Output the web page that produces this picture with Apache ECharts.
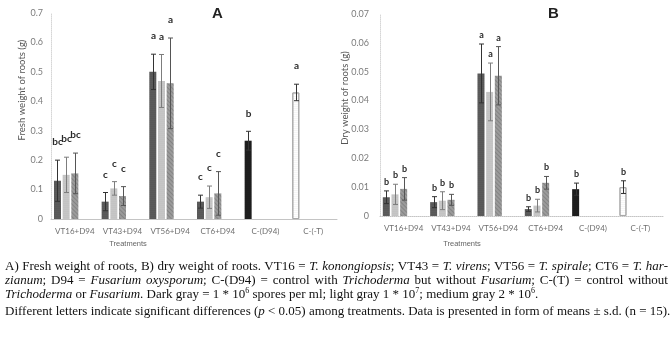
<!DOCTYPE html>
<html>
<head>
<meta charset="utf-8">
<script src="https://cdn.jsdelivr.net/npm/echarts@6/dist/echarts.min.js"></script>
<style>
  body { margin: 0; background: #fff; }
  #wrap { position: relative; width: 672px; height: 339px; overflow: hidden; }
  #chart { position: absolute; left: 0; top: 0; width: 672px; height: 339px; }
  #caption { position: absolute; left: 5px; top: 259px; width: 663px;
    font-family: "Liberation Serif", "Times New Roman", serif; font-size: 13px;
    line-height: 14px; color: #111; }
  #caption .j { text-align: justify; text-align-last: justify; white-space: nowrap; }
  #caption .l { text-align: left; white-space: nowrap; }
  #caption .p { margin-top: 3px; }
  #caption sup { font-size: 8px; line-height: 0; vertical-align: 5px; }
</style>
</head>
<body>
<div id="wrap">
  <div id="chart"></div>
  <div id="caption">
    <div class="j">A) Fresh weight of roots, B) dry weight of roots. VT16 = <i>T. konongiopsis</i>; VT43 = <i>T. virens</i>; VT56 = <i>T. spirale</i>; CT6 = <i>T. har-</i></div>
    <div class="j"><i>zianum</i>; D94 = <i>Fusarium oxysporum</i>; C-(D94) = control with <i>Trichoderma</i> but without <i>Fusarium</i>; C-(T) = control without</div>
    <div class="l"><i>Trichoderma</i> or <i>Fusarium</i>. Dark gray = 1 * 10<sup>6</sup> spores per ml; light gray 1 * 10<sup>7</sup>; medium gray 2 * 10<sup>6</sup>.</div>
    <div class="j p">Different letters indicate significant differences (<i>p</i> &lt; 0.05) among treatments. Data is presented in form of means ± s.d. (n = 15).</div>
  </div>
</div>
<script>
const categories = ["VT16+D94", "VT43+D94", "VT56+D94", "CT6+D94", "C-(D94)", "C-(-T)"];

// A: fresh weight (g); index 4 = black control, index 5 = white control
const freshDark = [0.13, 0.059, 0.50, 0.059, 0.266, 0.43];
const freshDarkErr = [0.07, 0.031, 0.06, 0.022, 0.032, 0.028];
const freshLight = [0.15, 0.104, 0.469, 0.074, "-", "-"];
const freshLightErr = [0.06, 0.023, 0.09, 0.038, 0, 0];
const freshMed = [0.155, 0.078, 0.461, 0.087, "-", "-"];
const freshMedErr = [0.069, 0.032, 0.154, 0.074, 0, 0];
const freshLettersDark = ["bc", "c", "a", "c", "b", "a"];
const freshLettersLight = ["bc", "c", "a", "c", "", ""];
const freshLettersMed = ["bc", "c", "a", "c", "", ""];

// B: dry weight (g)
const dryDark = [0.0065, 0.0048, 0.0494, 0.0024, 0.0093, 0.0100];
const dryDarkErr = [0.0022, 0.0019, 0.0102, 0.0008, 0.0021, 0.0022];
const dryLight = [0.0075, 0.0053, 0.043, 0.0036, "-", "-"];
const dryLightErr = [0.0035, 0.0031, 0.010, 0.0022, 0, 0];
const dryMed = [0.0094, 0.0056, 0.0486, 0.0115, "-", "-"];
const dryMedErr = [0.0039, 0.0019, 0.0101, 0.0022, 0, 0];
const dryLettersDark = ["b", "b", "a", "b", "b", "b"];
const dryLettersLight = ["b", "b", "a", "b", "", ""];
const dryLettersMed = ["b", "b", "a", "b", "", ""];

const freshTicks = [0, 0.1, 0.2, 0.3, 0.4, 0.5, 0.6, 0.7];
const dryTicks = [0, 0.01, 0.02, 0.03, 0.04, 0.05, 0.06, 0.07];

const DARK = "#5b5b5b";
const LIGHT = "#c3c3c3";
const MED = "#9b9b9b";
const BAR_W = 7;
const BAR_GAP = 0.24;
const PITCH = BAR_W * (1 + BAR_GAP);
const labelFont = "Lato, 'Open Sans', sans-serif";

const chart = echarts.init(document.getElementById("chart"));

function darkData(vals) {
  return vals.map((v, i) => {
    if (i === 4) return { value: v, itemStyle: { color: "#1e1e1e" } };
    if (i === 5) return { value: v, itemStyle: { color: "#ffffff", borderColor: "#a8a8a8", borderWidth: 1 } };
    return v;
  });
}

function barSeries(gridIdx, data, color, decal) {
  return {
    type: "bar",
    xAxisIndex: gridIdx,
    yAxisIndex: gridIdx,
    barWidth: BAR_W,
    barGap: BAR_GAP * 100 + "%",
    itemStyle: { color: color, decal: decal },
    silent: true,
    data: data,
  };
}

function errorSeries(gridIdx, vals, errs, letters, slot, color, letterGap, letterSize) {
  const data = [];
  vals.forEach((v, i) => {
    if (v !== "-") data.push([i, v, errs[i]]);
  });
  return {
    type: "custom",
    xAxisIndex: gridIdx,
    yAxisIndex: gridIdx,
    silent: true,
    z: 5,
    data: data,
    renderItem: (params, api) => {
      const i = api.value(0);
      const v = api.value(1);
      const e = api.value(2);
      const hi = api.coord([i, v + e]);
      const lo = api.coord([i, v - e]);
      const x = Math.round(hi[0] + (slot - 2) * PITCH) + 0.5;
      const style = { stroke: color, lineWidth: 1 };
      return {
        type: "group",
        children: [
          { type: "line", shape: { x1: x, y1: hi[1], x2: x, y2: lo[1] }, style },
          { type: "line", shape: { x1: x - 2.5, y1: hi[1], x2: x + 2.5, y2: hi[1] }, style },
          { type: "line", shape: { x1: x - 2.5, y1: lo[1], x2: x + 2.5, y2: lo[1] }, style },
          {
            type: "text",
            x: x,
            y: hi[1] - letterGap,
            style: {
              text: letters[i],
              fill: "#2b2b2b",
              font: "bold " + letterSize + "px " + labelFont,
              align: "center",
              verticalAlign: "middle",
            },
          },
        ],
      };
    },
  };
}

function emptySeries(gridIdx) {
  return barSeries(gridIdx, categories.map(() => "-"), "#000");
}

const dotDecal = { symbol: "rect", symbolSize: 0.35, dashArrayX: [2, 0], dashArrayY: [1, 1], color: "rgba(0,0,0,0.18)", rotation: 0 };
const lightDecal = { symbol: "rect", symbolSize: 0.35, dashArrayX: [2, 0], dashArrayY: [1, 1], color: "rgba(255,255,255,0.35)" };
const hatchDecal = { symbol: "rect", symbolSize: 1, dashArrayX: [1, 0], dashArrayY: [1, 2], rotation: Math.PI / 4, color: "rgba(60,60,60,0.25)" };

function xAxis(gridIdx, dotted) {
  return {
    type: "category",
    gridIndex: gridIdx,
    data: categories,
    axisTick: { show: false },
    axisLine: { lineStyle: { color: "#c4c4c4", width: 1, type: dotted ? "dotted" : "solid" } },
    axisLabel: { color: "#6f6f6f", fontSize: 8, fontFamily: labelFont, margin: 8, interval: 0 },
  };
}

function yAxis(gridIdx, ticks, digits, margin) {
  return {
    type: "value",
    gridIndex: gridIdx,
    min: ticks[0],
    max: ticks[ticks.length - 1],
    interval: ticks[1] - ticks[0],
    splitLine: { show: false },
    axisTick: { show: false },
    axisLine: { show: true, lineStyle: { color: "#d6d6d6", type: "dotted" } },
    axisLabel: {
      color: "#7b7b7b",
      fontSize: 9,
      fontFamily: labelFont,
      margin: margin,
      formatter: (val) => (val === 0 ? "0" : val.toFixed(digits)),
    },
  };
}

const option = {
  animation: false,
  grid: [
    { left: 51, top: 13, width: 286, height: 206 },
    { left: 380, top: 14, width: 284, height: 202 },
  ],
  xAxis: [xAxis(0, false), xAxis(1, true)],
  yAxis: [yAxis(0, freshTicks, 1, 8), yAxis(1, dryTicks, 2, 11)],
  graphic: [
    { type: "text", left: 212, top: 6, style: { text: "A", font: "bold 15px 'Liberation Sans', Arial, sans-serif", fill: "#222" } },
    { type: "text", left: 548, top: 6, style: { text: "B", font: "bold 15px 'Liberation Sans', Arial, sans-serif", fill: "#222" } },
    { type: "text", x: 22, y: 90, rotation: Math.PI / 2, style: { text: "Fresh weight of roots (g)", font: "9.5px " + labelFont, fill: "#555", align: "center", verticalAlign: "middle" } },
    { type: "text", x: 345, y: 98, rotation: Math.PI / 2, style: { text: "Dry weight of roots (g)", font: "9.5px " + labelFont, fill: "#555", align: "center", verticalAlign: "middle" } },
    { type: "text", x: 128, y: 244, style: { text: "Treatments", font: "7.5px 'Liberation Sans', Arial, sans-serif", fill: "#666", align: "center", verticalAlign: "middle" } },
    { type: "text", x: 462, y: 244, style: { text: "Treatments", font: "7.5px 'Liberation Sans', Arial, sans-serif", fill: "#666", align: "center", verticalAlign: "middle" } },
  ],
  series: [
    barSeries(0, darkData(freshDark), DARK, dotDecal),
    barSeries(0, freshLight, LIGHT, lightDecal),
    barSeries(0, freshMed, MED, hatchDecal),
    emptySeries(0),
    emptySeries(0),
    errorSeries(0, freshDark, freshDarkErr, freshLettersDark, 0, "#333", 18, 10),
    errorSeries(0, freshLight, freshLightErr, freshLettersLight, 1, "#7d7d7d", 18, 10),
    errorSeries(0, freshMed, freshMedErr, freshLettersMed, 2, "#555", 18, 10),

    barSeries(1, darkData(dryDark), DARK, dotDecal),
    barSeries(1, dryLight, LIGHT, lightDecal),
    barSeries(1, dryMed, MED, hatchDecal),
    emptySeries(1),
    emptySeries(1),
    errorSeries(1, dryDark, dryDarkErr, dryLettersDark, 0, "#333", 9, 9),
    errorSeries(1, dryLight, dryLightErr, dryLettersLight, 1, "#7d7d7d", 9, 9),
    errorSeries(1, dryMed, dryMedErr, dryLettersMed, 2, "#555", 9, 9),
  ],
};

chart.setOption(option);
</script>
</body>
</html>
